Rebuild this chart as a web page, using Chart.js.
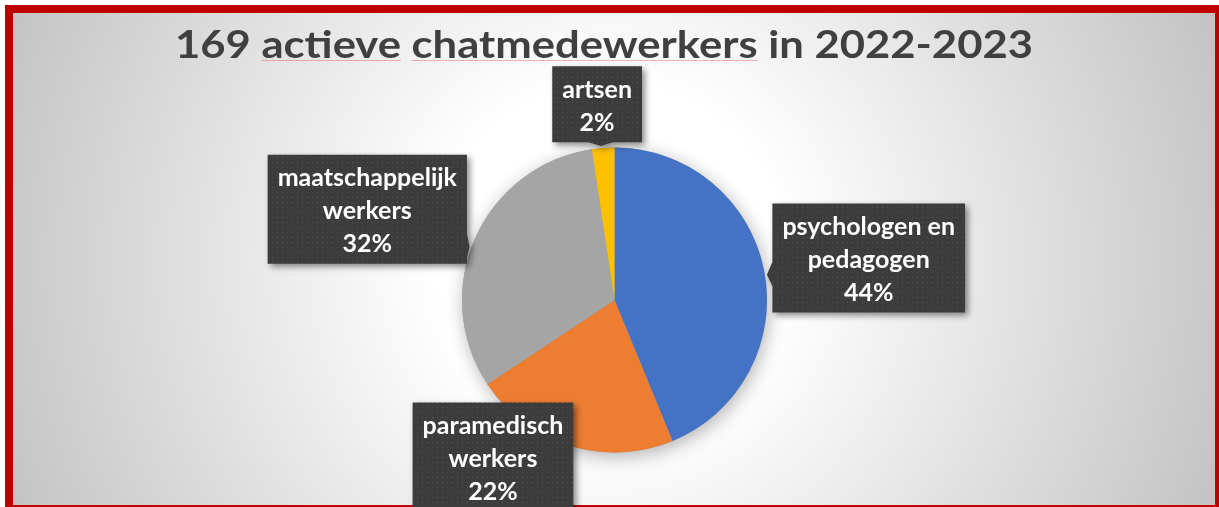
<!DOCTYPE html>
<html>
<head>
<meta charset="utf-8">
<script src="https://cdn.jsdelivr.net/npm/chart.js@4.4.1/dist/chart.umd.min.js"></script>
<style>
  html, body { margin: 0; padding: 0; background: #fff; }
  #wrap { width: 1219px; height: 507px; position: relative; }
</style>
</head>
<body>
<div id="wrap"><canvas id="chart"></canvas></div>
<script>
const chartTitle = '169 actieve chatmedewerkers in 2022-2023';
const misspelled = ['actieve', 'chatmedewerkers'];
const categories = [['psychologen en', 'pedagogen'], ['paramedisch', 'werkers'], ['maatschappelijk', 'werkers'], ['artsen']];
const counts = [74, 37, 54, 4];
const sliceColors = ['#4472C4', '#ED7D31', '#A5A5A5', '#FFC000'];

// callout box centres relative to the pie centre, in pie radii
const calloutOffsets = [[1.667, -0.275], [-0.797, 1.03], [-1.621, -0.595], [-0.114, -1.284]];

const labelFont = 'bold 25px Lato';
const lineH = 33;
const padV = 5;

// dotted dark fill used by the callouts
function makePattern(ctx) {
    const c = document.createElement('canvas');
    c.width = 5; c.height = 5;
    const p = c.getContext('2d');
    p.fillStyle = '#3c3c3c';
    p.fillRect(0, 0, 5, 5);
    p.fillStyle = '#535353';
    p.fillRect(2, 2, 1, 1);
    return ctx.createPattern(c, 'repeat');
}

const backdrop = {
    id: 'backdrop',
    beforeDraw(chart) {
        const ctx = chart.ctx;
        const w = chart.width, h = chart.height;
        ctx.save();
        ctx.fillStyle = '#ffffff';
        ctx.fillRect(0, 0, w, h);
        ctx.fillStyle = '#C00000';
        ctx.fillRect(5, 5, w - 5, h - 5);
        const g = ctx.createRadialGradient(610, 260, 0, 610, 260, 700);
        g.addColorStop(0, '#ffffff');
        g.addColorStop(0.25, '#ffffff');
        g.addColorStop(1, '#bdbdbd');
        ctx.fillStyle = g;
        ctx.fillRect(13, 13, w - 4 - 13, h - 2 - 13);
        ctx.restore();
    }
};

const pieShadow = {
    id: 'pieShadow',
    beforeDatasetsDraw(chart) {
        const arc = chart.getDatasetMeta(0).data[0];
        if (!arc) return;
        const ctx = chart.ctx;
        ctx.save();
        ctx.shadowColor = 'rgba(0,0,0,0.3)';
        ctx.shadowBlur = 18;
        ctx.shadowOffsetX = 2;
        ctx.shadowOffsetY = 4;
        ctx.fillStyle = '#a0a0a0';
        ctx.beginPath();
        ctx.arc(arc.x, arc.y, arc.outerRadius, 0, Math.PI * 2);
        ctx.fill();
        ctx.restore();
    }
};

const callouts = {
    id: 'callouts',
    afterDatasetsDraw(chart) {
        const meta = chart.getDatasetMeta(0);
        const ctx = chart.ctx;
        const data = chart.data.datasets[0].data;
        const total = data.reduce((a, b) => a + b, 0);
        const fill = makePattern(ctx);
        ctx.save();
        ctx.font = labelFont;
        meta.data.forEach((arc, i) => {
            const r = arc.outerRadius;
            const lines = [].concat(chart.data.labels[i], Math.round(data[i] / total * 100) + '%');
            const textW = Math.max(...lines.map(l => ctx.measureText(l).width));
            const bw = textW + 20;
            const bh = lines.length * lineH + padV * 2;
            const cx = arc.x + calloutOffsets[i][0] * r;
            const cy = arc.y + calloutOffsets[i][1] * r;
            const x0 = cx - bw / 2, y0 = cy - bh / 2;

            // pointer: tip on the pie rim towards the box
            const dx = cx - arc.x, dy = cy - arc.y;
            const d = Math.hypot(dx, dy);
            const tx = arc.x + dx / d * (r + 2), ty = arc.y + dy / d * (r + 2);
            // where the line box centre -> tip leaves the box
            const sx = (tx - cx) !== 0 ? (bw / 2) / Math.abs(tx - cx) : Infinity;
            const sy = (ty - cy) !== 0 ? (bh / 2) / Math.abs(ty - cy) : Infinity;
            const s = Math.min(sx, sy);

            ctx.save();
            ctx.shadowColor = 'rgba(0,0,0,0.45)';
            ctx.shadowBlur = 6;
            ctx.shadowOffsetX = 3;
            ctx.shadowOffsetY = 3;
            ctx.fillStyle = fill;
            ctx.beginPath();
            ctx.rect(x0, y0, bw, bh);
            if (s < 1) {
                const ex = cx + (tx - cx) * s, ey = cy + (ty - cy) * s;
                const hw = 12;
                if (sx < sy) {
                    const ey1 = Math.max(y0, ey - hw), ey2 = Math.min(y0 + bh, ey + hw);
                    const bx = tx > cx ? x0 + bw : x0;
                    ctx.moveTo(bx, ey1); ctx.lineTo(tx, ty); ctx.lineTo(bx, ey2); ctx.closePath();
                } else {
                    const ex1 = Math.max(x0, ex - hw), ex2 = Math.min(x0 + bw, ex + hw);
                    const by = ty > cy ? y0 + bh : y0;
                    ctx.moveTo(ex1, by); ctx.lineTo(tx, ty); ctx.lineTo(ex2, by); ctx.closePath();
                }
            }
            ctx.fill();
            ctx.restore();

            ctx.fillStyle = '#ffffff';
            ctx.textAlign = 'center';
            ctx.textBaseline = 'middle';
            lines.forEach((l, k) => {
                ctx.fillText(l, cx, y0 + padV + lineH / 2 + k * lineH + 2);
            });
        });
        ctx.restore();
    }
};

const titleDraw = {
    id: 'titleDraw',
    afterDraw(chart) {
        const ctx = chart.ctx;
        const left = 175, targetW = 858, baseY = 58;
        ctx.save();
        ctx.font = 'bold 38px Lato';
        const natural = ctx.measureText(chartTitle).width;
        const k = targetW / natural;
        ctx.translate(left, baseY);
        ctx.scale(k, 1);
        ctx.fillStyle = '#404040';
        ctx.textBaseline = 'alphabetic';
        ctx.fillText(chartTitle, 0, 0);
        // spell-check underlines
        ctx.strokeStyle = 'rgba(235,110,110,0.55)';
        ctx.lineWidth = 1;
        misspelled.forEach(word => {
            const at = chartTitle.indexOf(word);
            const x1 = ctx.measureText(chartTitle.slice(0, at)).width;
            const x2 = x1 + ctx.measureText(word).width;
            ctx.beginPath();
            ctx.moveTo(x1, 2.5);
            ctx.lineTo(x2, 2.5);
            ctx.stroke();
        });
        ctx.restore();
    }
};

function build() {
    new Chart(document.getElementById('chart'), {
        type: 'pie',
        data: {
            labels: categories,
            datasets: [{
                data: counts,
                backgroundColor: sliceColors,
                borderWidth: 0
            }]
        },
        options: {
            responsive: true,
            maintainAspectRatio: false,
            devicePixelRatio: 1,
            animation: false,
            layout: { padding: { left: 462, right: 452, top: 147, bottom: 54 } },
            plugins: {
                legend: { display: false },
                title: { display: false },
                tooltip: { enabled: false }
            }
        },
        plugins: [backdrop, pieShadow, callouts, titleDraw]
    });
}

if (document.fonts && document.fonts.load) {
    Promise.all([document.fonts.load('bold 25px Lato'), document.fonts.load('bold 38px Lato')])
        .then(build, build);
} else {
    build();
}
</script>
</body>
</html>
